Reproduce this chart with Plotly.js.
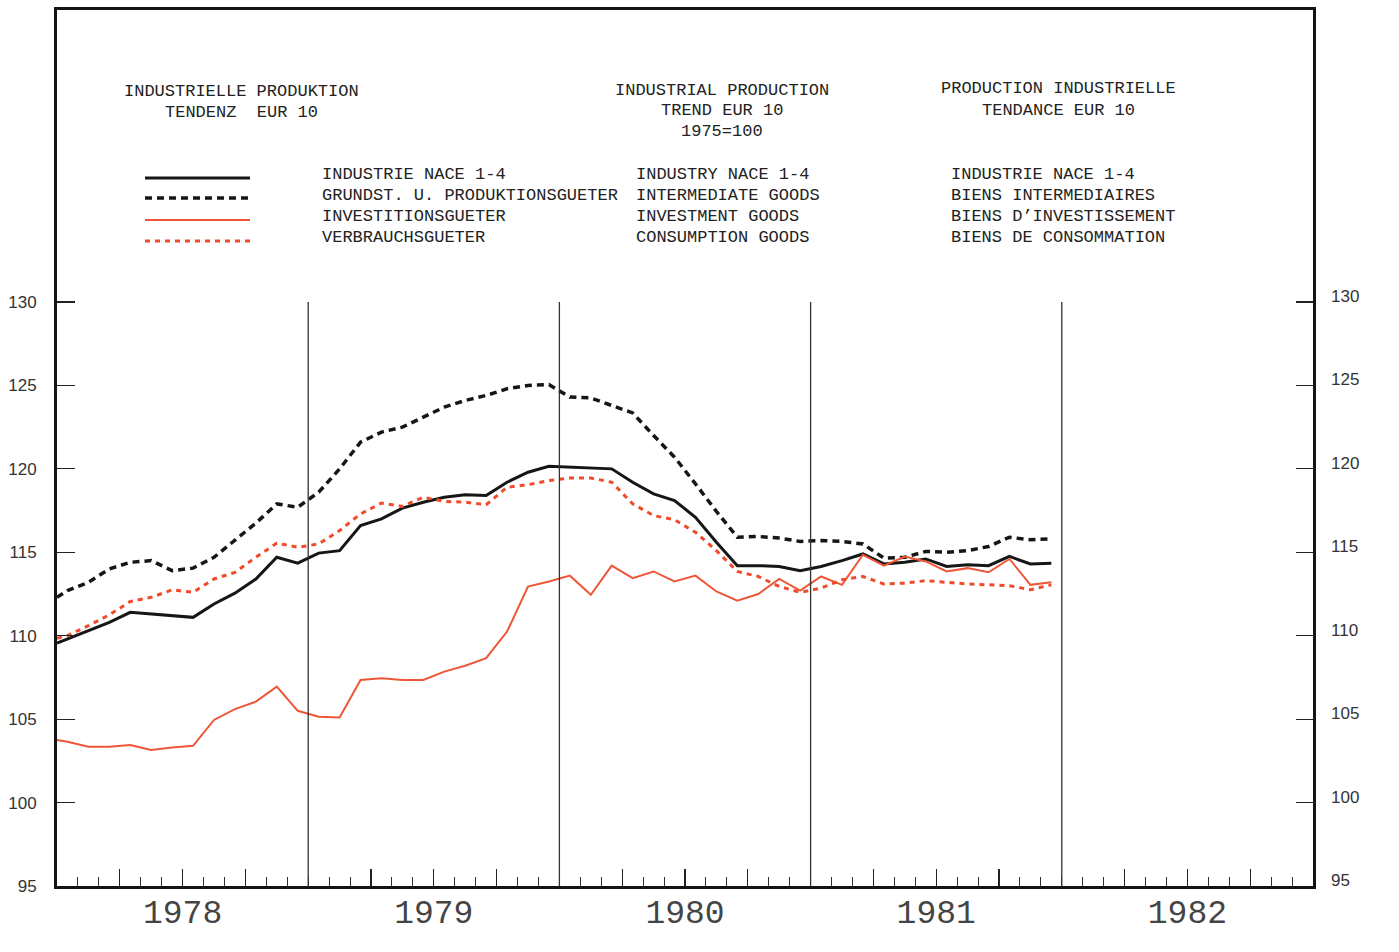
<!DOCTYPE html>
<html>
<head>
<meta charset="utf-8">
<script src="https://cdn.plot.ly/plotly-3.0.1.min.js"></script>
<style>html,body{margin:0;padding:0;background:#fff;}#chart{width:1399px;height:952px;}</style>
</head>
<body>
<div id="chart"></div>
<script>
// ---- Data (monthly, Jan 1978 .. Dec 1981), 1975 = 100 ----
const years = [1978, 1979, 1980, 1981, 1982];
const industry = [
  109.8, 110.3, 110.8, 111.4, 111.3, 111.2, 111.1, 111.9, 112.55, 113.4, 114.7, 114.35,
  114.95, 115.1, 116.6, 117.0, 117.65, 118.0, 118.3, 118.45, 118.4, 119.2, 119.8, 120.15,
  120.1, 120.05, 120.0, 119.2, 118.5, 118.1, 117.1, 115.6, 114.2, 114.2, 114.15, 113.9,
  114.15, 114.5, 114.9, 114.3, 114.4, 114.6, 114.15, 114.25, 114.2, 114.75, 114.3, 114.35
];
const intermediate = [
  112.7, 113.2, 114.0, 114.4, 114.5, 113.9, 114.05, 114.7, 115.7, 116.75, 117.9, 117.7,
  118.6, 120.0, 121.6, 122.2, 122.5, 123.1, 123.7, 124.1, 124.4, 124.8, 125.0, 125.05,
  124.3, 124.25, 123.8, 123.35, 122.0, 120.7, 119.1, 117.45, 115.9, 115.95, 115.85, 115.65,
  115.7, 115.65, 115.5, 114.65, 114.7, 115.05, 115.0, 115.1, 115.35, 115.9, 115.75, 115.8
];
const investment = [
  103.65, 103.35, 103.35, 103.45, 103.15, 103.3, 103.4, 104.95, 105.6, 106.05, 106.95, 105.5,
  105.15, 105.1, 107.35, 107.45, 107.35, 107.35, 107.85, 108.2, 108.65, 110.25, 112.95, 113.25,
  113.6, 112.45, 114.2, 113.45, 113.85, 113.25, 113.6, 112.65, 112.1, 112.5, 113.4, 112.7,
  113.55, 113.05, 114.85, 114.2, 114.75, 114.45, 113.85, 114.05, 113.8, 114.6, 113.05, 113.2
];
const consumption = [
  110.0, 110.6, 111.25, 112.05, 112.3, 112.75, 112.6, 113.4, 113.8, 114.7, 115.55, 115.3,
  115.5, 116.3, 117.3, 117.95, 117.75, 118.3, 118.05, 118.0, 117.85, 118.9, 119.05, 119.3,
  119.45, 119.45, 119.2, 117.9, 117.2, 116.95, 116.2, 115.1, 113.85, 113.55, 112.95, 112.6,
  112.85, 113.35, 113.55, 113.1, 113.15, 113.3, 113.2, 113.1, 113.05, 113.0, 112.75, 113.05
];
// values where each line meets the left axis (start of Jan 1978)
const edgeValues = [109.55, 112.3, 103.75, 109.85];
const yTicks = [95, 100, 105, 110, 115, 120, 125, 130];

const headerDE = ["INDUSTRIELLE PRODUKTION", "TENDENZ\u00a0\u00a0EUR 10"];
const headerEN = ["INDUSTRIAL PRODUCTION", "TREND EUR 10", "1975=100"];
const headerFR = ["PRODUCTION INDUSTRIELLE", "TENDANCE EUR 10"];
const legendDE = ["INDUSTRIE NACE 1-4", "GRUNDST. U. PRODUKTIONSGUETER", "INVESTITIONSGUETER", "VERBRAUCHSGUETER"];
const legendEN = ["INDUSTRY NACE 1-4", "INTERMEDIATE GOODS", "INVESTMENT GOODS", "CONSUMPTION GOODS"];
const legendFR = ["INDUSTRIE NACE 1-4", "BIENS INTERMEDIAIRES", "BIENS D\u2019INVESTISSEMENT", "BIENS DE CONSOMMATION"];

// ---- Geometry helpers ----
const W = 1399, H = 952, ML = 57, MR = 86, MT = 10, MB = 66;
const PW = W - ML - MR, PH = H - MT - MB;
const px = v => (v - ML) / PW;
const py = v => (H - MB - v) / PH;

// x in months since 1 Jan 1978; data points at mid-month
const xs = [0];
for (let i = 0; i < industry.length; i++) xs.push(i + 0.5);

const styles = [
  {color: '#161616', width: 3, dash: 'solid'},
  {color: '#161616', width: 3.5, dash: '7px,5px'},
  {color: '#ef5638', width: 2, dash: 'solid'},
  {color: '#f04a2a', width: 3, dash: '5px,5px'}
];
const series = [industry, intermediate, investment, consumption];
const traces = series.map((s, k) => ({
  type: 'scatter', mode: 'lines', x: xs, y: [edgeValues[k]].concat(s),
  line: styles[k], hoverinfo: 'skip', showlegend: false, cliponaxis: true
}));
traces.push({type: 'scatter', x: [], y: [], yaxis: 'y2', showlegend: false});

// ---- x ticks ----
const qVals = [], qText = [];
for (let y = 0; y < years.length; y++) {
  [3, 6, 9].forEach(q => {
    qVals.push(y * 12 + q);
    qText.push(q === 6 ? String(years[y]) : '');
  });
}

// ---- shapes ----
const shapes = [];
for (let y = 1; y < years.length; y++) {
  shapes.push({type: 'line', xref: 'x', yref: 'y', x0: y * 12, x1: y * 12, y0: 95, y1: 130,
    line: {color: '#333', width: 1.3}});
}
const swY = [178, 198, 220, 241];
swY.forEach((v, k) => {
  shapes.push({type: 'line', xref: 'paper', yref: 'paper', x0: px(145), x1: px(250), y0: py(v), y1: py(v),
    line: {color: styles[k].color, width: styles[k].width, dash: styles[k].dash}});
});

// ---- annotations ----
const ann = [];
const tf = {family: 'Liberation Mono, DejaVu Sans Mono, monospace', size: 17, color: '#222'};
function addText(t, x, y, anchor) {
  ann.push({text: t, xref: 'paper', yref: 'paper', x: px(x), y: py(y), xanchor: anchor, yanchor: 'middle',
    showarrow: false, font: tf});
}
headerDE.forEach((t, i) => addText(t, 241, 91 + i * 21, 'center'));
headerEN.forEach((t, i) => addText(t, 722, 90 + i * 21, 'center'));
headerFR.forEach((t, i) => addText(t, 1058, 89 + i * 21, 'center'));
const rowY = [174, 195, 216, 237];
legendDE.forEach((t, i) => addText(t, 320, rowY[i], 'left'));
legendEN.forEach((t, i) => addText(t, 634, rowY[i], 'left'));
legendFR.forEach((t, i) => addText(t, 949, rowY[i], 'left'));

const numFont = {family: 'Liberation Sans, Arial, sans-serif', size: 17, color: '#333'};
const layout = {
  width: W, height: H, autosize: false,
  margin: {l: ML, r: MR, t: MT, b: MB, pad: 0},
  paper_bgcolor: '#ffffff', plot_bgcolor: '#ffffff',
  showlegend: false,
  xaxis: {
    range: [0, 60], showgrid: false, zeroline: false,
    showline: true, linewidth: 3, linecolor: '#141414', mirror: true,
    tickmode: 'array', tickvals: qVals, ticktext: qText,
    ticks: 'inside', ticklen: 17, tickwidth: 1.2, tickcolor: '#222',
    tickfont: {family: 'Liberation Mono, DejaVu Sans Mono, monospace', size: 33, color: '#444'},
    ticklabelstandoff: -6,
    minor: {tickmode: 'linear', tick0: 0, dtick: 1, ticks: 'inside', ticklen: 9, tickwidth: 1.1, tickcolor: '#333', showgrid: false}
  },
  yaxis: {
    range: [95, 95 + PH / (584 / 35)], showgrid: false, zeroline: false,
    showline: true, linewidth: 3, linecolor: '#141414', mirror: true,
    tickmode: 'array', tickvals: yTicks,
    ticks: 'inside', ticklen: 18, tickwidth: 1.2, tickcolor: '#222',
    tickfont: numFont, ticklabelstandoff: 14
  },
  yaxis2: {
    overlaying: 'y', side: 'right', range: [95, 95 + PH / (584 / 35)],
    showgrid: false, zeroline: false, showline: false,
    tickmode: 'array', tickvals: yTicks,
    ticks: 'inside', ticklen: 17, tickwidth: 1.2, tickcolor: '#222',
    tickfont: numFont, ticklabelstandoff: 17, ticklabelshift: -6
  },
  shapes: shapes,
  annotations: ann
};

Plotly.newPlot('chart', traces, layout, {staticPlot: true, displayModeBar: false});
</script>
</body>
</html>
